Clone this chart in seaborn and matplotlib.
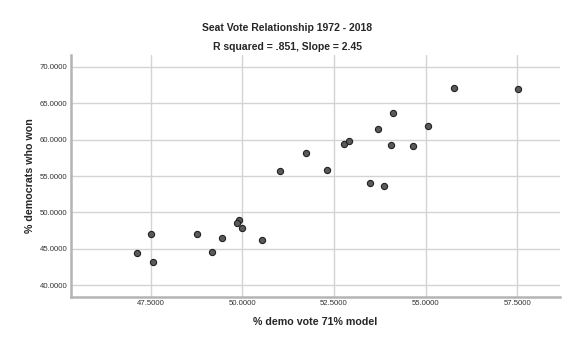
import matplotlib
matplotlib.use("Agg")
import matplotlib.pyplot as plt
import seaborn as sns
import pandas as pd
from matplotlib.ticker import FormatStrFormatter

demo_vote = [47.13, 47.50, 47.56, 48.76, 49.18, 49.44, 49.91, 49.87, 50.00, 50.54,
             51.04, 51.73, 52.31, 52.79, 52.90, 53.71, 54.10, 54.07, 54.66, 53.48,
             53.88, 55.06, 55.79, 57.52]
dem_won = [44.4, 47.0, 43.2, 47.1, 44.6, 46.5, 48.95, 48.6, 47.8, 46.2,
           55.75, 58.2, 55.8, 59.45, 59.8, 61.5, 63.7, 59.3, 59.1, 54.07,
           53.6, 61.8, 67.1, 66.9]
x_ticks = [47.5, 50.0, 52.5, 55.0, 57.5]
y_ticks = [40.0, 45.0, 50.0, 55.0, 60.0, 65.0, 70.0]

df = pd.DataFrame({"x": demo_vote, "y": dem_won})

sns.set_style("white")
plt.rcParams['font.family'] = ['Liberation Sans', 'DejaVu Sans']

fig = plt.figure(figsize=(5.75, 3.51), dpi=100)
ax = fig.add_axes([0.1235, 0.154, 0.8505, 0.689])

ax.set_axisbelow(True)
sns.scatterplot(data=df, x="x", y="y", ax=ax, s=20, color="#5a5a5a",
                edgecolor="#222222", linewidth=0.8, zorder=3)

ax.set_xlim(45.33, 58.67)
ax.set_ylim(38.4, 71.6)
ax.set_xticks(x_ticks)
ax.set_yticks(y_ticks)
ax.xaxis.set_major_formatter(FormatStrFormatter('%.4f'))
ax.yaxis.set_major_formatter(FormatStrFormatter('%.4f'))
ax.grid(True, color="#d4d4d4", linewidth=1.0)
for s in ["top", "right"]:
    ax.spines[s].set_visible(False)
for s in ["left", "bottom"]:
    ax.spines[s].set_color("#b4b4b4")
    ax.spines[s].set_linewidth(1.8)
ax.tick_params(axis='both', labelsize=5.6, colors="#333333", length=0, pad=2.5)
ax.set_xlabel("% demo vote 71% model", fontsize=7.7, fontweight='bold', labelpad=7)
ax.set_ylabel("% democrats who won", fontsize=7.7, fontweight='bold', labelpad=3.5)

fig.text(0.5, 0.920, "Seat Vote Relationship 1972 - 2018", ha='center', va='center',
         fontsize=7.5, fontweight='bold')
fig.text(0.5, 0.866, "R squared = .851, Slope = 2.45", ha='center', va='center',
         fontsize=7.5, fontweight='bold')

fig.savefig("out.png", dpi=100)
